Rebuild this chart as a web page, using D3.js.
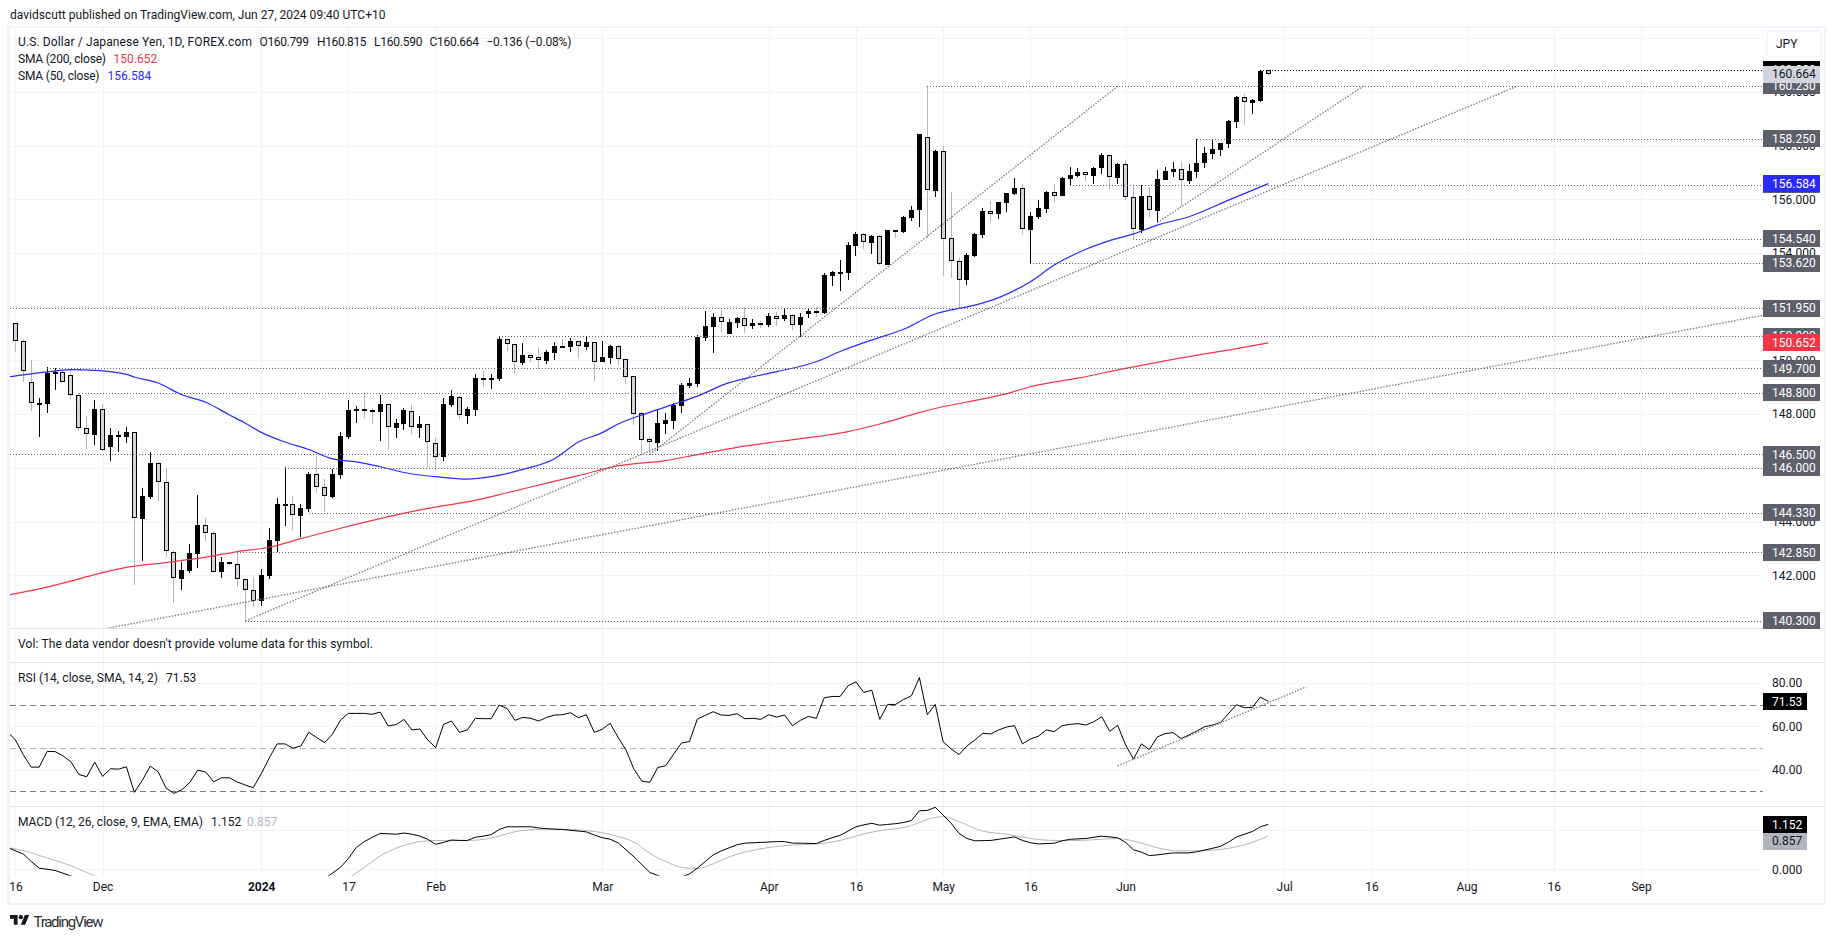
<!DOCTYPE html>
<html><head><meta charset="utf-8">
<script src="https://cdn.jsdelivr.net/npm/d3@7/dist/d3.min.js"></script>
<style>
html,body{margin:0;padding:0;background:#fff;overflow:hidden}
svg{display:block}
text{font-family:Roboto,"Liberation Sans",sans-serif;font-size:12px;fill:#131722}
</style></head><body><svg id="c" width="1835" height="939"></svg>
<script>
const opens=[151.38,150.71,149.18,148.39,148.39,149.54,149.56,149.44,148.70,147.47,
147.23,148.18,146.79,147.16,147.16,147.32,144.11,144.92,146.17,145.46,
142.88,141.87,142.17,142.80,143.86,143.56,142.13,142.48,142.41,141.85,
141.44,141.03,141.98,143.29,144.63,144.64,144.22,144.48,145.76,145.27,
144.91,145.74,147.15,148.17,148.19,148.17,148.09,148.36,147.50,147.64,
148.13,147.48,147.62,146.94,146.42,148.35,148.65,147.94,148.17,149.34,
149.28,149.32,150.79,150.60,149.92,150.19,150.11,149.99,150.29,150.54,
150.51,150.71,150.51,150.67,149.95,150.10,150.52,150.04,149.41,148.03,
147.06,146.93,147.63,147.74,148.31,149.05,149.13,150.85,151.26,151.60,
151.00,151.40,151.57,151.28,151.38,151.32,151.64,151.55,151.68,151.33,
151.73,151.83,151.77,153.16,153.27,153.27,154.27,154.69,154.38,154.62,
153.55,154.84,154.78,155.31,155.60,158.31,156.32,157.79,154.55,153.69,
153.01,153.89,154.67,155.55,155.46,155.87,156.20,156.41,154.87,155.35,
155.65,156.26,156.13,156.77,156.87,157.00,156.88,157.15,157.64,156.80,
157.30,156.07,154.84,156.11,155.58,156.73,157.03,157.12,156.69,157.03,
157.36,157.69,157.85,158.07,158.89,159.80,159.60,159.67,160.799];
const closes=[150.71,149.59,148.40,148.41,149.53,149.57,149.18,148.70,147.47,147.25,
148.18,146.65,147.21,147.21,147.32,144.12,144.94,146.17,145.46,142.89,
141.88,142.19,142.81,143.86,143.56,142.13,142.48,142.41,141.85,141.44,
141.03,142.00,143.30,144.64,144.65,144.23,144.49,145.77,145.27,144.94,
145.76,147.17,148.14,148.19,148.17,148.09,148.36,147.51,147.66,148.14,
147.51,147.62,146.95,146.42,148.36,148.66,147.95,148.18,149.33,149.32,
149.33,150.79,150.60,149.93,150.19,150.10,150.00,150.30,150.52,150.51,
150.71,150.52,150.67,149.95,150.11,150.52,150.04,149.39,148.02,147.05,
146.95,147.67,147.77,148.35,149.07,149.15,150.86,151.27,151.60,151.44,
151.42,151.57,151.29,151.38,151.33,151.64,151.55,151.68,151.33,151.60,
151.84,151.78,153.17,153.29,153.29,154.29,154.71,154.40,154.62,153.58,
154.84,154.82,155.34,155.62,158.43,156.33,157.80,154.53,153.69,153.01,
153.91,154.71,155.55,155.46,155.89,156.22,156.41,154.88,155.36,155.66,
156.27,156.13,156.78,156.89,157.00,156.89,157.17,157.64,156.82,157.30,
156.07,154.88,156.11,155.59,156.74,157.04,157.12,156.71,157.04,157.36,
157.71,157.86,158.08,158.92,159.81,159.61,159.69,160.77,160.664];
const highs=[151.41,150.80,150.02,148.59,149.77,149.70,149.64,149.64,148.80,147.93,
148.53,148.38,147.47,147.38,147.52,147.35,145.24,146.58,146.20,145.98,
142.94,142.48,143.15,144.97,144.12,143.63,142.68,142.50,142.88,141.87,
141.92,142.23,143.75,144.88,146.02,144.94,144.64,145.84,146.45,145.58,
145.96,147.32,148.53,148.30,148.80,148.21,148.71,148.39,147.81,148.24,
148.33,147.93,147.64,147.16,148.59,148.90,148.67,148.25,149.49,149.61,
149.48,150.91,150.81,150.62,150.65,150.20,150.46,150.38,150.69,150.80,
150.85,150.72,150.88,150.70,150.72,150.57,150.57,150.08,149.42,148.09,
147.18,148.19,148.04,148.40,149.15,149.33,150.95,151.84,151.75,151.88,
151.53,151.63,151.99,151.53,151.48,151.76,151.80,151.94,151.73,151.75,
151.96,151.98,153.24,153.34,153.74,154.42,154.77,154.73,154.67,154.67,
154.86,154.86,155.38,155.75,158.43,160.22,157.84,157.98,156.26,153.80,
153.99,154.73,155.66,155.94,155.89,156.22,156.79,156.57,155.51,155.97,
156.31,156.57,156.82,157.20,157.17,157.03,157.20,157.72,157.66,157.34,
157.46,156.51,156.53,156.47,157.09,157.21,157.39,157.39,157.31,158.23,
157.93,158.23,158.11,158.94,159.83,159.91,159.75,160.82,160.815];
const lows=[150.33,149.21,148.13,147.16,148.05,148.90,149.18,148.58,147.36,146.71,
146.86,146.64,146.27,146.60,146.94,141.63,142.54,144.85,144.78,142.67,
140.98,141.46,142.09,142.27,143.29,142.12,141.91,142.38,141.57,140.32,
140.83,140.87,141.87,142.88,143.83,143.68,143.42,144.34,145.05,144.35,
144.88,145.60,147.09,147.68,147.86,147.63,147.01,146.68,147.12,147.42,
147.27,147.12,146.04,145.93,146.27,148.28,147.83,147.64,147.94,149.01,
148.94,149.25,150.36,149.54,149.83,149.93,149.69,149.88,150.02,150.45,
150.33,150.10,150.39,149.25,149.95,149.87,149.83,149.12,147.59,146.54,
146.54,146.64,147.26,147.45,148.05,148.96,149.02,150.73,150.29,151.02,
150.98,151.22,151.03,151.18,151.19,151.26,151.28,151.47,151.13,150.86,
151.58,151.60,151.73,152.78,152.60,152.99,153.90,154.15,153.97,153.55,
153.55,154.57,154.76,155.20,154.98,154.57,156.10,153.15,153.08,151.94,
152.82,153.86,154.57,155.15,155.28,155.53,156.17,154.71,153.61,155.28,
155.50,155.85,156.13,156.54,156.84,156.69,156.58,156.93,156.38,156.58,
155.97,154.53,154.74,155.35,155.13,156.73,156.84,155.75,156.57,156.79,
157.18,157.51,157.62,157.91,158.67,158.78,159.19,159.64,160.590];

const sma50Idx=[-1,4,7,10,14,15,18,21,24,27,29,31,34,37,40,43,46,50,53,57,60,64,68,71,74,76,79,83,86,90,93,96,101,104,107,110,112,116,118,121,124,128,131,135,138,141,144,148,153,158];
const sma50Val=[149.38,149.57,149.66,149.63,149.48,149.38,149.16,148.72,148.44,147.97,147.66,147.32,146.96,146.68,146.33,146.22,146.04,145.77,145.67,145.58,145.67,145.94,146.34,146.96,147.31,147.63,147.97,148.36,148.67,149.17,149.39,149.58,149.95,150.33,150.66,150.95,151.16,151.73,151.88,152.06,152.34,152.93,153.55,154.14,154.46,154.71,155.04,155.35,155.97,156.584];
const sma200Idx=[-1,3,7,10,14,19,24,28,32,36,41,46,50,54,58,62,67,71,76,82,86,91,96,101,105,109,113,116,120,125,128,134,140,146,154,158];
const sma200Val=[141.26,141.49,141.78,142.02,142.29,142.47,142.67,142.88,143.04,143.36,143.75,144.11,144.37,144.59,144.79,145.07,145.43,145.71,146.07,146.27,146.49,146.76,146.97,147.16,147.35,147.63,147.97,148.21,148.45,148.76,149.02,149.34,149.70,150.04,150.44,150.652];

const rsiVal=[57.54,53.70,46.81,41.14,41.14,48.34,48.34,46.35,43.59,37.77,36.69,43.44,36.85,40.37,40.22,41.29,29.49,35.01,41.60,39.00,31.48,29.03,30.71,34.09,39.76,38.84,34.39,36.23,36.23,34.24,32.86,31.64,38.07,45.27,51.87,51.87,49.87,50.95,57.23,54.78,52.48,56.46,62.90,65.96,65.96,65.96,65.51,66.58,60.14,60.75,63.21,58.30,58.76,53.70,50.18,60.91,62.44,57.23,58.30,63.67,63.51,63.51,69.80,68.27,62.75,64.13,63.67,62.44,64.13,65.20,65.35,66.27,63.97,65.35,57.23,58.61,61.37,54.93,49.11,40.22,34.70,34.09,40.98,41.75,47.11,52.32,52.94,63.36,65.05,66.73,65.20,65.05,65.81,63.51,63.67,63.21,65.35,64.28,65.20,60.29,62.75,64.59,63.67,73.17,73.78,73.78,78.69,80.52,75.62,76.69,63.21,70.10,70.10,72.40,74.09,82.52,65.35,70.10,52.78,49.57,46.96,50.95,53.70,56.77,56.46,58.30,59.68,60.29,51.87,54.16,55.39,58.30,57.54,60.29,60.91,61.21,60.60,62.13,64.43,57.69,60.45,51.41,44.81,51.87,49.26,55.08,56.62,57.08,54.32,56.00,57.84,59.84,60.60,61.83,65.96,69.95,68.57,68.72,73.47,71.53];

const macdIdx=[-1,1,2,3,5,7,8,12,18,25,32,37,39,41,42,43,44,45,46,47,48,49,50,51,52,53,54,55,56,57,58,59,60,61,62,63,64,65,66,67,68,69,70,71,72,73,74,75,76,78,80,81,82,83,84,85,86,87,88,89,90,91,92,94,96,97,98,99,101,102,103,104,105,106,107,108,109,110,111,112,113,114,115,116,117,118,119,120,121,123,125,126,127,128,129,131,132,133,135,137,139,140,141,142,143,144,146,148,149,151,152,153,154,156,157,158];
const macdVal=[0.56,0.39,0.20,0.03,-0.03,-0.17,-0.27,-0.8,-1.5,-1.9,-1.4,-0.6,-0.24,0.05,0.28,0.56,0.71,0.82,0.92,0.91,0.90,0.93,0.90,0.85,0.77,0.64,0.69,0.75,0.74,0.74,0.82,0.85,0.89,1.02,1.09,1.09,1.09,1.09,1.06,1.04,1.03,1.02,1.00,0.98,0.96,0.88,0.81,0.77,0.68,0.32,-0.08,-0.16,-0.22,-0.25,-0.2,-0.12,0.03,0.20,0.37,0.47,0.55,0.63,0.67,0.69,0.71,0.71,0.67,0.67,0.66,0.74,0.81,0.87,0.98,1.09,1.14,1.18,1.13,1.15,1.17,1.20,1.25,1.50,1.51,1.59,1.39,1.18,0.92,0.79,0.73,0.74,0.80,0.83,0.74,0.68,0.65,0.67,0.73,0.77,0.79,0.85,0.81,0.69,0.50,0.44,0.35,0.37,0.42,0.42,0.45,0.54,0.59,0.70,0.83,0.97,1.09,1.152];
const signalIdx=[-1,1,4,7,10,15,22,30,38,42,44,46,48,50,52,54,57,60,62,64,67,70,73,76,78,80,82,84,86,88,90,92,95,98,101,103,105,107,109,113,115,117,119,122,125,128,131,134,139,142,144,147,150,153,156,158];
const signalVal=[0.56,0.48,0.29,0.09,-0.17,-0.6,-1.3,-1.5,-0.9,-0.23,0.05,0.34,0.54,0.67,0.73,0.74,0.74,0.80,0.91,1.00,1.03,1.02,0.97,0.84,0.70,0.41,0.20,0.05,0.02,0.14,0.32,0.44,0.56,0.62,0.65,0.70,0.79,0.91,0.99,1.12,1.28,1.35,1.22,0.98,0.90,0.79,0.74,0.74,0.79,0.67,0.55,0.47,0.48,0.54,0.69,0.857];

const levelVal=[160.82,160.23,158.25,156.55,154.54,153.62,151.95,150.90,149.70,148.80,146.50,146.00,144.33,142.85,140.30];
const levelStart=[157,115,149,133,141,128,-1,61,4,8,-1,34,37,28,29];
const trendFrom=[[29,140.3],[80,146.5],[144,155.13],[11.53,140.02]];
const trendTo=[[189.5,160.23],[139.1,160.23],[170.06,160.23],[220.4,151.68]];
const rsiTrendIdx=[139,162.8];
const rsiTrendVal=[41.75,78.23];
const rsiLevels=[70,50,30];

const timeTickIdx=[0,11,31,42,53,74,95,106,117,128,140,160,171,183,194,205];
const timeTickLab=['16','Dec','2024','17','Feb','Mar','Apr','16','May','16','Jun','Jul','16','Aug','16','Sep'];
const priceTicks=[162,160,158,156,154,152,150,148,146,144,142];
const rsiTicks=[80,60,40];
const macdTicks=[1,0];

const svg=d3.select('#c');
const L=9.5,R=1763,FR=1825;
const x=d3.scaleLinear().domain([0,158]).range([15.4,1268.3]);
const y=d3.scaleLinear().domain([156,142]).range([199.3,575.2]);
const yR=d3.scaleLinear().domain([60,40]).range([726.3,769.6]);
const yM=d3.scaleLinear().domain([0,1]).range([869.3,830.3]);
const panes=[['main',28,628.3],['rsi',662.3,806.3],['macd',806.3,875.7]];
const defs=svg.append('defs');
panes.forEach(p=>defs.append('clipPath').attr('id','cp-'+p[0]).append('rect').attr('x',L).attr('y',p[1]).attr('width',R-L).attr('height',p[2]-p[1]));
const px=v=>Math.round(v)+.5;

// grid
const GC='#f0f3fa';
const g=svg.append('g').attr('stroke',GC).attr('stroke-width',1).attr('shape-rendering','crispEdges');
g.selectAll('.v').data(timeTickIdx).join('line').attr('x1',d=>px(x(d))).attr('x2',d=>px(x(d))).attr('y1',28).attr('y2',875.7);
g.selectAll('.h').data(priceTicks).join('line').attr('x1',L).attr('x2',R).attr('y1',d=>px(y(d))).attr('y2',d=>px(y(d)));
g.selectAll('.r').data(rsiTicks).join('line').attr('x1',L).attr('x2',R).attr('y1',d=>px(yR(d))).attr('y2',d=>px(yR(d)));
g.selectAll('.m').data(macdTicks).join('line').attr('x1',L).attr('x2',R).attr('y1',d=>px(yM(d))).attr('y2',d=>px(yM(d)));

// candles
const idx=d3.range(opens.length);
const main=svg.append('g').attr('clip-path','url(#cp-main)');
const cg=main.append('g').attr('shape-rendering','crispEdges');
cg.selectAll('line').data(idx).join('line')
 .attr('x1',i=>px(x(i)-.5)).attr('x2',i=>px(x(i)-.5))
 .attr('y1',i=>y(highs[i])).attr('y2',i=>y(lows[i]))
 .attr('stroke',i=>closes[i]>=opens[i]?'#000':'#b2b5be');
cg.selectAll('rect').data(idx).join('rect')
 .attr('x',i=>Math.round(x(i)-.5)-1.5).attr('width',4)
 .attr('y',i=>Math.round(y(Math.max(opens[i],closes[i])))+.5)
 .attr('height',i=>Math.max(1,Math.round(y(Math.min(opens[i],closes[i])))-Math.round(y(Math.max(opens[i],closes[i])))-1))
 .attr('fill',i=>closes[i]>=opens[i]?'#000':'#d1d4dc').attr('stroke','#000');

// moving averages
const lineOf=(sc)=>d3.line().x(d=>x(d[0])).y(d=>sc(d[1]));
const smooth=(sc)=>d3.line().x(d=>x(d[0])).y(d=>sc(d[1])).curve(d3.curveMonotoneX);
main.append('path').attr('d',smooth(y)(d3.zip(sma200Idx,sma200Val))).attr('fill','none').attr('stroke','#f23645').attr('stroke-width',1.2);
main.append('path').attr('d',smooth(y)(d3.zip(sma50Idx,sma50Val))).attr('fill','none').attr('stroke','#2a2aff').attr('stroke-width',1.2);

// trend lines and levels
main.selectAll('.t').data(d3.zip(trendFrom,trendTo)).join('line')
 .attr('x1',d=>x(d[0][0])).attr('y1',d=>y(d[0][1])).attr('x2',d=>x(d[1][0])).attr('y2',d=>y(d[1][1]))
 .attr('stroke','#787b86').attr('stroke-width',1.3).attr('stroke-dasharray','1.5 1.5');
main.selectAll('.l').data(d3.zip(levelVal,levelStart)).join('line')
 .attr('shape-rendering','crispEdges')
 .attr('x1',d=>x(d[1])).attr('x2',R).attr('y1',d=>px(y(d[0]))).attr('y2',d=>px(y(d[0])))
 .attr('stroke',d=>d[0]===160.82?'#000':'#5d606b').attr('stroke-width',1).attr('stroke-dasharray','1 2');

// RSI
const rp=svg.append('g').attr('clip-path','url(#cp-rsi)');
rp.selectAll('line').data(rsiLevels).join('line').attr('shape-rendering','crispEdges')
 .attr('x1',L).attr('x2',R).attr('y1',d=>px(yR(d))).attr('y2',d=>px(yR(d)))
 .attr('stroke',d=>d===50?'#b2b5be':'#787b86').attr('stroke-dasharray','6 4');
rp.append('path').attr('d',lineOf(yR)(rsiVal.map((v,i)=>[i-1,v]))).attr('fill','none').attr('stroke','#000').attr('stroke-width',1);
rp.append('path').attr('d',lineOf(yR)(d3.zip(rsiTrendIdx,rsiTrendVal))).attr('fill','none').attr('stroke','#787b86').attr('stroke-width',1.3).attr('stroke-dasharray','1.5 1.5');

// MACD
const mp=svg.append('g').attr('clip-path','url(#cp-macd)');
mp.append('path').attr('d',smooth(yM)(d3.zip(signalIdx,signalVal))).attr('fill','none').attr('stroke','#b2b5be').attr('stroke-width',1);
mp.append('path').attr('d',lineOf(yM)(d3.zip(macdIdx,macdVal))).attr('fill','none').attr('stroke','#000').attr('stroke-width',1);

// frame
const fg=svg.append('g').attr('fill','none').attr('shape-rendering','crispEdges');
fg.append('rect').attr('x',8.5).attr('y',27).attr('width',1816.5).attr('height',877).attr('stroke','#f0f3fa').attr('stroke-width',2.5);
[628.3,662.3,806.3].forEach(v=>fg.append('line').attr('x1',L).attr('x2',FR-1).attr('y1',px(v)).attr('y2',px(v)).attr('stroke','#e0e3eb'));

// axes
function axis(gen,tx,ty){const a=svg.append('g').attr('transform',`translate(${tx},${ty})`).call(gen);a.select('.domain').remove();a.selectAll('line').remove();a.selectAll('text').style('font-family','Roboto,"Liberation Sans",sans-serif').style('font-size','12px').attr('fill','#131722');return a;}
axis(d3.axisRight(y).tickValues(priceTicks).tickFormat(d3.format('.3f')).tickSize(0).tickPadding(9),R,0);
axis(d3.axisRight(yR).tickValues(rsiTicks).tickFormat(d3.format('.2f')).tickSize(0).tickPadding(9),R,0);
axis(d3.axisRight(yM).tickValues(macdTicks).tickFormat(d3.format('.3f')).tickSize(0).tickPadding(9),R,0);
const ta=axis(d3.axisBottom(x).tickValues(timeTickIdx).tickFormat((d,i)=>timeTickLab[i]).tickSize(0).tickPadding(7),0,875.7);
ta.selectAll('text').style('font-weight',(d,i)=>timeTickLab[i]==='2024'?'700':'400');

// price labels
function tag(val,fmt,sc,bg,fg2,w,cy){
  const cyv=cy==null?sc(val):cy;
  svg.append('rect').attr('x',R).attr('y',cyv-8.5).attr('width',w).attr('height',17).attr('fill',bg).attr('shape-rendering','crispEdges');
  svg.append('text').attr('x',R+9).attr('y',cyv).attr('dy','.35em').text(fmt(val)).style('fill',fg2);
}
const f3=d3.format('.3f'),f2=d3.format('.2f');
levelVal.filter(v=>v!==160.82).forEach(v=>tag(v,f3,y,'#5d606b','#fff',57));
tag(160.82,f3,y,'#000','#fff',57);
tag(160.23,f3,y,'#5d606b','#fff',57);
tag(160.664,f3,y,'#d1d4dc','#131722',57);
tag(156.584,f3,y,'#2a2aff','#fff',57);
tag(150.652,f3,y,'#f23645','#fff',57);
tag(71.53,f2,yR,'#000','#fff',44);
tag(1.152,f3,yM,'#000','#fff',44,824.4);
tag(0.857,f3,yM,'#b2b5be','#131722',44,841.2);

// currency button
svg.append('rect').attr('x',1767).attr('y',31).attr('width',54).attr('height',26).attr('rx',4).attr('fill','#fff').attr('stroke','#f0f3fa').attr('stroke-width',1.5);
svg.append('text').attr('x',1776).attr('y',44).attr('dy','.35em').text('JPY');

// texts
function txt(s,tx,ty,col,len){const t=svg.append('text').attr('x',tx).attr('y',ty).attr('dy','.35em').text(s);if(col)t.style('fill',col);if(len)t.attr('textLength',len);return t;}
txt('davidscutt published on TradingView.com, Jun 27, 2024 09:40 UTC+10',10,14.7,null,375.5);
txt('U.S. Dollar / Japanese Yen, 1D, FOREX.com',18,41.7,null,234);
txt('O160.799',259.5,41.7,null,49.5);txt('H160.815',317,41.7,null,49.5);txt('L160.590',374,41.7,null,48.5);txt('C160.664',429.5,41.7,null,49.5);
txt('−0.136 (−0.08%)',486.4,41.7,null,85);
txt('SMA (200, close)',18,58.7,null,88);txt('150.652',113.5,58.7,'#f23645');
txt('SMA (50, close)',18,75.7,null,81.5);txt('156.584',107.5,75.7,'#2a2aff');
txt("Vol: The data vendor doesn't provide volume data for this symbol.",18,644,null,355);
txt('RSI (14, close, SMA, 14, 2)',18,677.7,null,140);txt('71.53',166,677.7);
txt('MACD (12, 26, close, 9, EMA, EMA)',18,821.7,null,185);txt('1.152',211,821.7);txt('0.857',247,821.7,'#b2b5be');

// logo
const lg=svg.append('g').attr('transform','translate(10,911.2) scale(.54)').attr('fill','#131722');
lg.append('path').attr('d','M14 25H7V14H0V7h14v18zM28 25h-8l7.5-18h8L28 25z');
lg.append('circle').attr('cx',20).attr('cy',11).attr('r',4);
txt('TradingView',33.5,921.7,'#2a2e39',70).style('font-size','15px');
</script></body></html>
